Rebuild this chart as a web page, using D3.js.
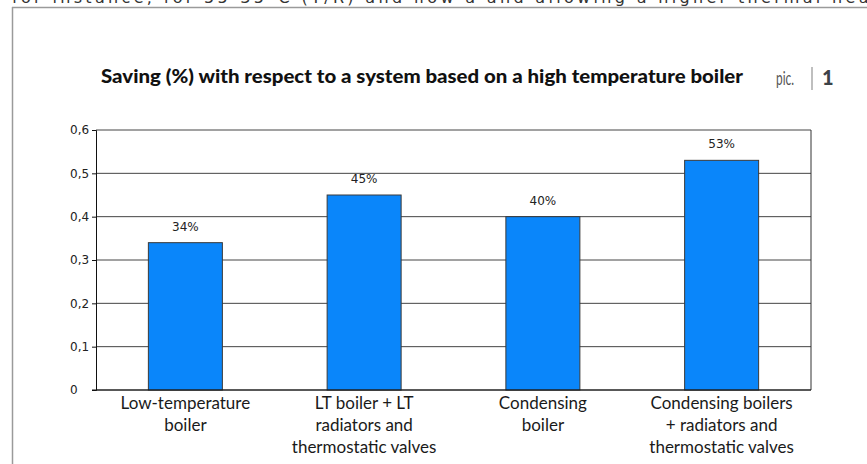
<!DOCTYPE html>
<html>
<head>
<meta charset="utf-8">
<script src="https://cdn.jsdelivr.net/npm/d3@7"></script>
<style>
  html, body { margin: 0; padding: 0; background: #fff; }
  svg { display: block; }
</style>
</head>
<body>
<svg id="chart" width="867" height="464"></svg>
<script>
// Savings relative to a high-temperature boiler system
const categories = [
  "Low-temperature boiler",
  "LT boiler + LT radiators and thermostatic valves",
  "Condensing boiler",
  "Condensing boilers + radiators and thermostatic valves"
];
const categoryLines = [
  ["Low-temperature", "boiler"],
  ["LT boiler + LT", "radiators and", "thermostatic valves"],
  ["Condensing", "boiler"],
  ["Condensing boilers", "+ radiators and", "thermostatic valves"]
];
const savings = [0.34, 0.45, 0.40, 0.53];
const valueLabels = ["34%", "45%", "40%", "53%"];
const yTicks = [0, 0.1, 0.2, 0.3, 0.4, 0.5, 0.6];
const yTickLabels = ["0", "0,1", "0,2", "0,3", "0,4", "0,5", "0,6"];

const title = "Saving (%) with respect to a system based on a high temperature boiler";
const bodyLine = "for instance, for 55-35°C (T/R) and flow a   and allowing a higher thermal head";

const svg = d3.select("#chart");
const plot = { left: 96, right: 811, top: 130, bottom: 390 };

// page frame and the cut-off body text line above it
svg.append("text")
  .attr("x", 12).attr("y", 3)
  .attr("textLength", 870).attr("lengthAdjust", "spacing")
  .style("font-family", "DejaVu Sans").style("font-size", "16px")
  .attr("fill", "#333")
  .text(bodyLine);

svg.append("line")
  .attr("x1", 12).attr("x2", 867).attr("y1", 7.5).attr("y2", 7.5)
  .attr("stroke", "#9a9a9a").attr("stroke-width", 1.5);
svg.append("line")
  .attr("x1", 12.5).attr("x2", 12.5).attr("y1", 7).attr("y2", 464)
  .attr("stroke", "#9a9a9a").attr("stroke-width", 1.5);

// title block
svg.append("text")
  .attr("x", 101).attr("y", 83)
  .attr("textLength", 642).attr("lengthAdjust", "spacingAndGlyphs")
  .style("font-family", "Lato").style("font-weight", "900").style("font-size", "19px")
  .attr("fill", "#111")
  .text(title);

svg.append("text")
  .attr("x", 776).attr("y", 85)
  .attr("textLength", 18).attr("lengthAdjust", "spacingAndGlyphs")
  .style("font-family", "Lato").style("font-weight", "400").style("font-size", "19px")
  .attr("fill", "#555")
  .text("pic.");
svg.append("line")
  .attr("x1", 812).attr("x2", 812).attr("y1", 67).attr("y2", 90)
  .attr("stroke", "#aaa").attr("stroke-width", 1.5);
svg.append("text")
  .attr("x", 822).attr("y", 85)
  .style("font-family", "Lato").style("font-weight", "900").style("font-size", "20px")
  .attr("fill", "#3c4248")
  .text("1");

// scales
const x = d3.scaleBand()
  .domain(categories)
  .range([plot.left, plot.right])
  .paddingInner(0.586)
  .paddingOuter(0.293);

const y = d3.scaleLinear()
  .domain([0, 0.6])
  .range([plot.bottom, plot.top]);

// horizontal gridlines
svg.append("g")
  .selectAll("line")
  .data(yTicks)
  .join("line")
  .attr("x1", plot.left).attr("x2", plot.right)
  .attr("y1", d => y(d)).attr("y2", d => y(d))
  .attr("stroke", "#444").attr("stroke-width", 1);

// y axis with short outward ticks
const yAxis = d3.axisLeft(y)
  .tickValues(yTicks)
  .tickSize(4)
  .tickFormat((d, i) => yTickLabels[i]);

const yG = svg.append("g")
  .attr("transform", `translate(${plot.left},0)`)
  .call(yAxis);
yG.select(".domain").attr("stroke", "#111");
yG.selectAll(".tick line").attr("stroke", "#111");
yG.selectAll(".tick text")
  .attr("x", 70 - plot.left)
  .attr("text-anchor", "start")
  .style("font-family", "DejaVu Sans").style("font-size", "12px")
  .attr("fill", "#222");

// right edge of the plot frame
svg.append("line")
  .attr("x1", plot.right).attr("x2", plot.right)
  .attr("y1", plot.top).attr("y2", plot.bottom)
  .attr("stroke", "#333").attr("stroke-width", 1);

// bars
svg.append("g")
  .selectAll("rect")
  .data(savings)
  .join("rect")
  .attr("x", (d, i) => x(categories[i]))
  .attr("width", x.bandwidth())
  .attr("y", d => y(d))
  .attr("height", d => y(0) - y(d))
  .attr("fill", "#0a86fa")
  .attr("stroke", "#3a3a3a").attr("stroke-width", 1);

// value labels above bars
svg.append("g")
  .selectAll("text")
  .data(savings)
  .join("text")
  .attr("x", (d, i) => x(categories[i]) + x.bandwidth() / 2)
  .attr("y", d => y(d) - 12)
  .attr("text-anchor", "middle")
  .style("font-family", "DejaVu Sans").style("font-size", "12px")
  .attr("fill", "#222")
  .text((d, i) => valueLabels[i]);

// bottom axis line
svg.append("line")
  .attr("x1", plot.left - 4).attr("x2", plot.right)
  .attr("y1", y(0)).attr("y2", y(0))
  .attr("stroke", "#111");

// category labels, one tspan per line
const catG = svg.append("g")
  .selectAll("text")
  .data(categories)
  .join("text")
  .attr("text-anchor", "middle")
  .style("font-family", "Lato").style("font-size", "17px")
  .attr("fill", "#1a1a1a");

catG.each(function (c, i) {
  const cx = x(c) + x.bandwidth() / 2;
  d3.select(this).selectAll("tspan")
    .data(categoryLines[i])
    .join("tspan")
    .attr("x", cx)
    .attr("y", (d, j) => 409 + j * 22)
    .text(d => d);
});
</script>
</body>
</html>
